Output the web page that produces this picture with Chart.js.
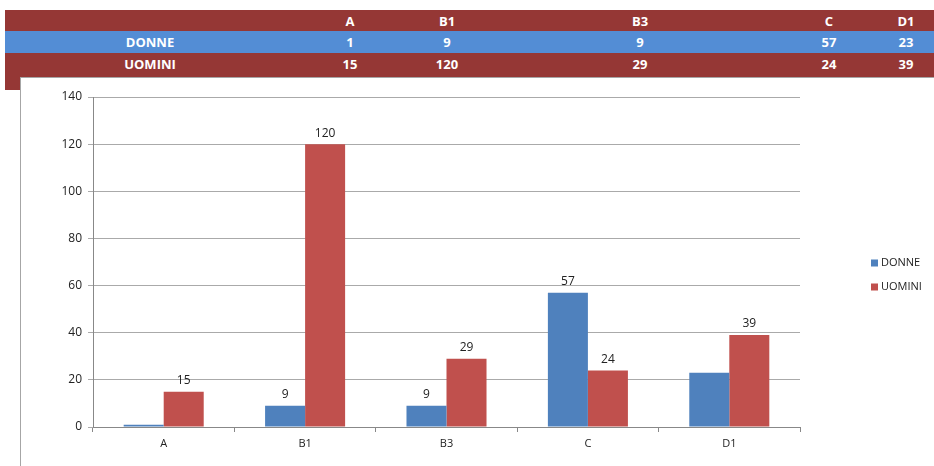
<!DOCTYPE html>
<html lang="it">
<head>
<meta charset="UTF-8" />
<title>DONNE / UOMINI</title>
<script src="https://cdn.jsdelivr.net/npm/chart.js"></script>
<style>
  body { margin: 0; background: #fff; width: 934px; height: 466px; position: relative; overflow: hidden;
         font-family: "Open Sans", "Liberation Sans", sans-serif; }
  .fondo-rosso { position: absolute; left: 5px; top: 10px; width: 929px; height: 80px; background: #953735; }
  .riga-blu { position: absolute; left: 5px; top: 31px; width: 929px; height: 22px; background: #538DD5; }
  .cella { position: absolute; color: #fff; font-weight: bold; font-size: 13px; transform: translate(-50%, -50%); white-space: nowrap; }
  .pannello { position: absolute; left: 20px; top: 77px; width: 914px; height: 389px; background: #fff;
              border-left: 1px solid #a6a6a6; border-top: 1px solid #a6a6a6; box-sizing: border-box; }
  #grafico { position: absolute; left: 20px; top: 77px; }
</style>
</head>
<body>
<div class="fondo-rosso"></div>
<div class="riga-blu"></div>
<div id="tabella"></div>
<div class="pannello"></div>
<canvas id="grafico" width="914" height="389"></canvas>

<script>
const categorie = ['A', 'B1', 'B3', 'C', 'D1'];
const donne = [1, 9, 9, 57, 23];
const uomini = [15, 120, 29, 24, 39];
// etichette visibili sopra le barre (come nel foglio originale)
const etichetteDonne = [false, true, true, true, false];
const etichetteUomini = [true, true, true, true, true];

// posizioni delle colonne della tabella
const colonneX = [350, 447, 640, 829, 906];
const righeY = [21, 42, 64];

const tabella = document.getElementById('tabella');
function cella(testo, x, y) {
  const s = document.createElement('span');
  s.className = 'cella';
  s.textContent = testo;
  s.style.left = x + 'px';
  s.style.top = y + 'px';
  tabella.appendChild(s);
}
cella('DONNE', 150, righeY[1]);
cella('UOMINI', 150, righeY[2]);
categorie.forEach((c, i) => {
  cella(c, colonneX[i], righeY[0]);
  cella(donne[i], colonneX[i], righeY[1]);
  cella(uomini[i], colonneX[i], righeY[2]);
});

const FONT = '"Open Sans", "Liberation Sans", sans-serif';

const etichette = {
  id: 'etichette',
  afterDatasetsDraw(chart) {
    const { ctx } = chart;
    const visibili = [etichetteDonne, etichetteUomini];
    ctx.save();
    ctx.font = '12px ' + FONT;
    ctx.fillStyle = '#222';
    ctx.textAlign = 'center';
    ctx.textBaseline = 'bottom';
    chart.data.datasets.forEach((ds, d) => {
      chart.getDatasetMeta(d).data.forEach((bar, i) => {
        if (!visibili[d][i]) return;
        ctx.fillText(ds.data[i], bar.x, bar.y - 5);
      });
    });
    ctx.restore();
  }
};

const legenda = {
  id: 'legenda',
  afterDraw(chart) {
    const { ctx } = chart;
    ctx.save();
    ctx.font = '11px ' + FONT;
    ctx.textBaseline = 'middle';
    chart.data.datasets.forEach((ds, d) => {
      const y = 186 + d * 24;
      ctx.fillStyle = ds.backgroundColor;
      ctx.fillRect(851, y - 3.5, 7, 7);
      ctx.fillStyle = '#222';
      ctx.fillText(ds.label, 861, y);
    });
    ctx.restore();
  }
};

new Chart(document.getElementById('grafico'), {
  type: 'bar',
  data: {
    labels: categorie,
    datasets: [
      { label: 'DONNE', data: donne, backgroundColor: '#4F81BD' },
      { label: 'UOMINI', data: uomini, backgroundColor: '#C0504D' }
    ]
  },
  options: {
    responsive: false,
    animation: false,
    layout: { padding: { left: 0, top: 20, right: 134, bottom: 0 } },
    plugins: { legend: { display: false }, tooltip: { enabled: false } },
    datasets: { bar: { categoryPercentage: 0.566, barPercentage: 1 } },
    scales: {
      x: {
        grid: { offset: true, drawOnChartArea: false, color: '#888', tickLength: 5 },
        border: { color: '#888' },
        ticks: { color: '#222', font: { size: 11, family: FONT }, padding: 5 },
        afterFit(scale) { scale.height = 39; }
      },
      y: {
        min: 0,
        max: 140,
        ticks: { stepSize: 20, color: '#222', font: { size: 12, family: FONT }, padding: 6 },
        grid: { color: '#aaa', tickLength: 5 },
        border: { color: '#888' },
        afterFit(scale) { scale.width = 73; }
      }
    }
  },
  plugins: [etichette, legenda]
});
</script>
</body>
</html>
